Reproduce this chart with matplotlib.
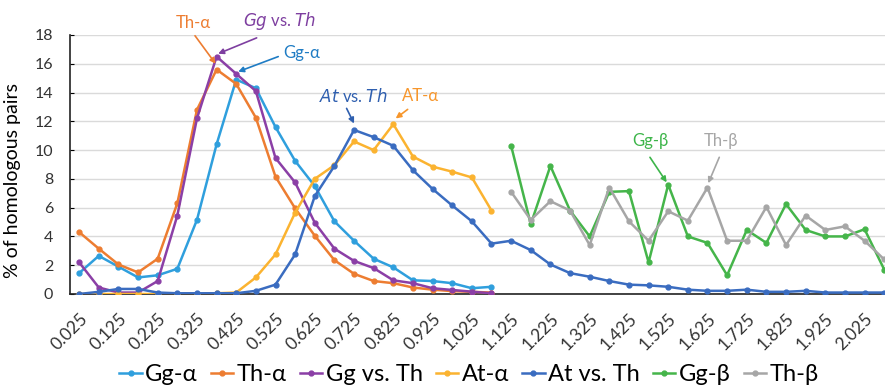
import numpy as np
import matplotlib.pyplot as plt

# bin centres (category axis)
categories = [f"{0.025 + 0.05 * i:.3f}" for i in range(42)]

gg_alpha = [1.45, 2.65, 1.9, 1.15, 1.3, 1.75, 5.15, 10.4, 14.9, 14.3, 11.6, 9.25,
            7.5, 5.05, 3.7, 2.45, 1.85, 0.95, 0.9, 0.75, 0.4, 0.5]
th_alpha = [4.3, 3.15, 2.05, 1.5, 2.45, 6.3, 12.8, 15.6, 14.6, 12.25, 8.15, 5.95,
            4.05, 2.35, 1.4, 0.9, 0.75, 0.45, 0.3, 0.2, 0.15, 0.1]
gg_vs_th = [2.2, 0.45, 0.1, 0.1, 0.9, 5.45, 12.2, 16.5, 15.3, 14.1, 9.45, 7.75,
            4.95, 3.15, 2.3, 1.8, 0.95, 0.75, 0.4, 0.28, 0.16, 0.05]
at_alpha = [0.0, 0.0, 0.0, 0.0, 0.0, 0.0, 0.0, 0.05, 0.1, 1.15, 2.75, 5.65,
            8.0, 8.95, 10.6, 10.0, 11.8, 9.55, 8.85, 8.5, 8.1, 5.8]
at_vs_th = [0.0, 0.15, 0.35, 0.35, 0.1, 0.05, 0.05, 0.05, 0.05, 0.22, 0.65, 2.75,
            6.8, 8.9, 11.4, 10.9, 10.3, 8.6, 7.3, 6.15, 5.05, 3.5, 3.7, 3.05,
            2.05, 1.45, 1.2, 0.9, 0.65, 0.6, 0.5, 0.3, 0.22, 0.22, 0.3, 0.15,
            0.15, 0.22, 0.1, 0.1, 0.1, 0.1]
gg_beta = [10.3, 4.85, 8.9, 5.8, 4.0, 7.1, 7.15, 2.2, 7.6, 4.0, 3.55, 1.3,
           4.45, 3.55, 6.25, 4.45, 4.0, 4.0, 4.5, 1.7]
th_beta = [7.1, 5.15, 6.45, 5.8, 3.4, 7.4, 5.05, 3.7, 5.75, 5.1, 7.4, 3.7,
           3.7, 6.05, 3.4, 5.45, 4.45, 4.7, 3.7, 2.4]

series = [
    ("Gg-α", gg_alpha, 0, "#2F9FDD"),
    ("Th-α", th_alpha, 0, "#ED7D31"),
    ("Gg vs. Th", gg_vs_th, 0, "#8B3FA6"),
    ("At-α", at_alpha, 0, "#FBB330"),
    ("At vs. Th", at_vs_th, 0, "#3A6CC0"),
    ("Gg-β", gg_beta, 22, "#45B54A"),
    ("Th-β", th_beta, 22, "#A6A6A6"),
]

plt.rcParams['font.family'] = ['Lato', 'DejaVu Sans']

fig = plt.figure(figsize=(8.85, 3.88), dpi=100)
ax = fig.add_axes([0.079, 0.2423, 0.921, 0.6675])

for name, vals, start, color in series:
    x = np.arange(start, start + len(vals))
    ax.plot(x, vals, color=color, lw=1.8, marker='o', ms=3.5, label=name, zorder=3)

ax.set_xlim(-0.47, 41.04)
ax.set_ylim(0, 18)
ax.set_yticks(range(0, 19, 2))
ax.tick_params(axis='y', labelsize=11.5, length=3, direction='in', pad=12,
               labelcolor='#333333')
ax.set_xticks(range(0, 42, 2))
ax.set_xticklabels(categories[::2], rotation=45, ha='right', va='top',
                   rotation_mode='anchor', fontsize=12.5, color='#333333')
ax.tick_params(axis='x', length=0, pad=12)
ax.grid(axis='y', color='#DADADA', lw=1)
ax.set_axisbelow(True)
for s in ['top', 'right']:
    ax.spines[s].set_visible(False)
for s in ['left', 'bottom']:
    ax.spines[s].set_color('#222222')
    ax.spines[s].set_linewidth(1.2)

ax.set_ylabel("% of homologous pairs", fontsize=14)
ax.yaxis.set_label_coords(-0.06, 0.44)

def note(text, xy, xytext, color, tail):
    ax.annotate("", xy=xy, xytext=tail, annotation_clip=False,
                arrowprops=dict(arrowstyle='-|>', color=color, lw=1.2,
                                mutation_scale=8, shrinkA=0, shrinkB=0))
    ax.text(xytext[0], xytext[1], text, color=color, fontsize=12,
            ha='center', va='center', clip_on=False)

note("Th-α", (6.95, 16.0), (5.8, 18.85), "#ED7D31", (5.9, 17.95))
note("$\\mathit{Gg}$ vs. $\\mathit{Th}$", (7.08, 16.7), (10.2, 19.0), "#7E3FA0", (9.04, 17.8))
note("Gg-α", (8.1, 15.45), (11.35, 16.75), "#1F7CC4", (10.14, 16.5))
note("$\\mathit{At}$ vs. $\\mathit{Th}$", (14.0, 11.85), (13.95, 13.75), "#2F5FAF", (13.62, 12.9))
note("AT-α", (16.12, 12.2), (17.4, 13.75), "#F7962B", (16.73, 12.83))
note("Gg-β", (29.92, 7.76), (29.07, 10.6), "#3DB54A", (29.07, 9.5))
note("Th-β", (32.04, 7.7), (32.67, 10.6), "#A6A6A6", (32.6, 9.5))

fig.legend(loc='center', bbox_to_anchor=(0.53, 0.035), ncol=7, frameon=False,
           fontsize=17, handlelength=0.95, handletextpad=0.15, columnspacing=0.55,
           borderpad=0, borderaxespad=0)

fig.savefig("out.png", dpi=100)
